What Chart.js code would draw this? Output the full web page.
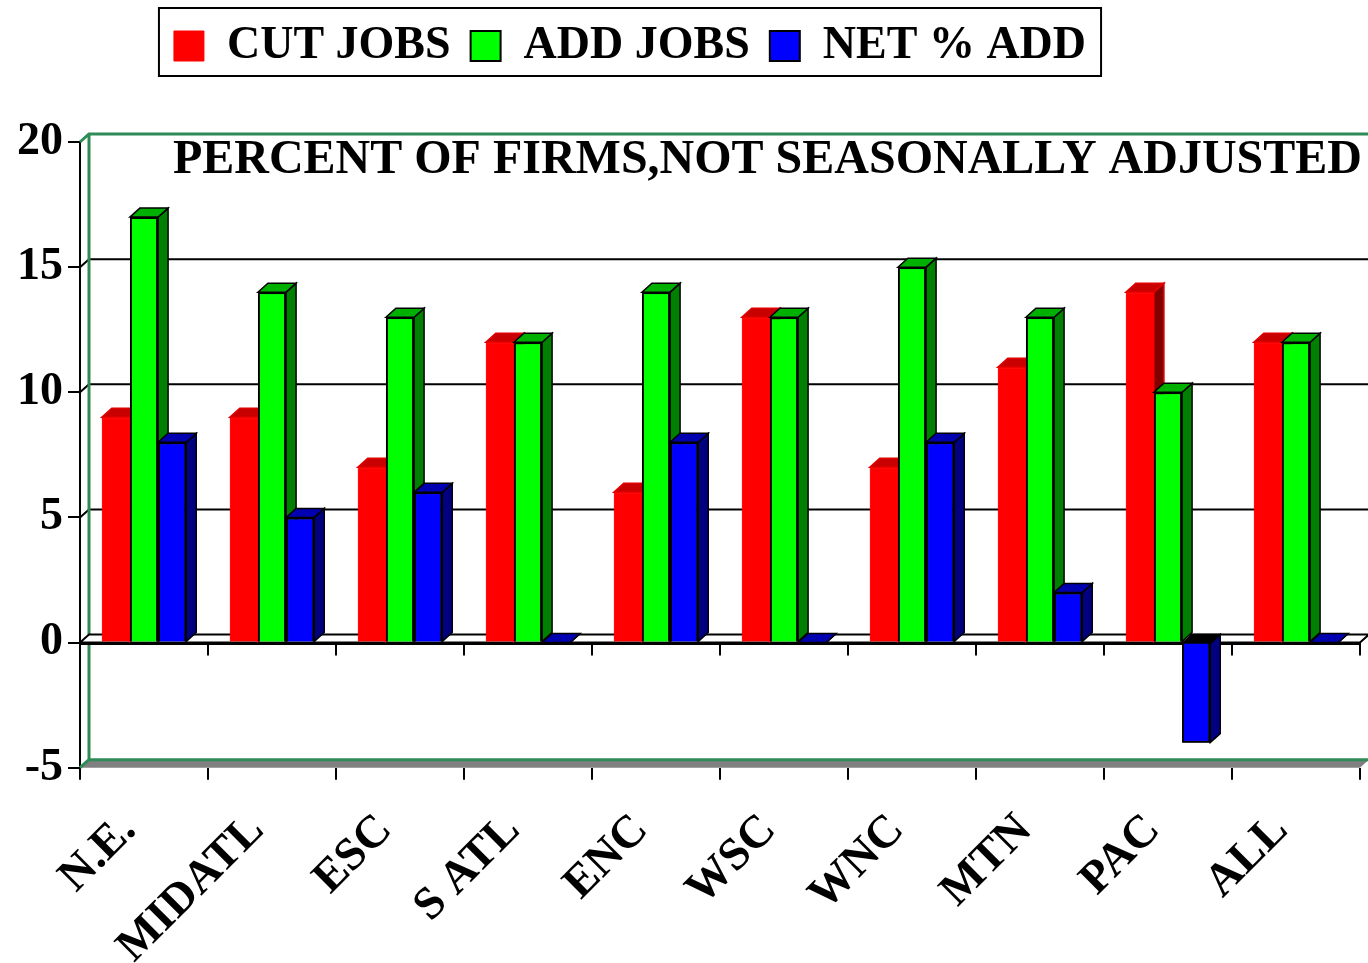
<!DOCTYPE html>
<html>
<head>
<meta charset="utf-8">
<title>Percent of firms</title>
<script src="https://cdn.jsdelivr.net/npm/chart.js@4/dist/chart.umd.min.js"></script>
<style>
  body { margin: 0; background: #fff; }
</style>
</head>
<body>
<canvas id="chart" width="1368" height="963"></canvas>
<script>
const regions = ['N.E.', 'MIDATL', 'ESC', 'S ATL', 'ENC', 'WSC', 'WNC', 'MTN', 'PAC', 'ALL'];
const cutJobs = [9, 9, 7, 12, 6, 13, 7, 11, 14, 12];
const addJobs = [17, 14, 13, 12, 14, 13, 15, 13, 10, 12];
const netAdd = [8, 5, 6, 0, 8, 0, 8, 2, -4, 0];
const yTicks = [-5, 0, 5, 10, 15, 20];

const serif = '"Liberation Serif", "Times New Roman", serif';
const WALL = { x: 9, y: 8 };   // depth of the back wall
const BAR = { x: 10, y: 9 };   // depth of the bars
const faces = [
    { top: '#c80000', side: '#800000', edge: '#e00000' },
    { top: '#00b000', side: '#008000', edge: '#000000' },
    { top: '#0000b0', side: '#000080', edge: '#000000' }
];

function poly(ctx, pts, fill, stroke, lw) {
    ctx.beginPath();
    ctx.moveTo(pts[0][0], pts[0][1]);
    for (let i = 1; i < pts.length; i++) ctx.lineTo(pts[i][0], pts[i][1]);
    ctx.closePath();
    if (fill) { ctx.fillStyle = fill; ctx.fill(); }
    if (stroke) { ctx.strokeStyle = stroke; ctx.lineWidth = lw || 1; ctx.stroke(); }
}

function line(ctx, x1, y1, x2, y2, color, lw) {
    ctx.beginPath();
    ctx.moveTo(x1, y1);
    ctx.lineTo(x2, y2);
    ctx.strokeStyle = color;
    ctx.lineWidth = lw;
    ctx.stroke();
}

const threeD = {
    id: 'threeD',
    afterLayout(chart) {
        // legend sits left of centre and well above the plot in the original
        const lg = chart.legend;
        lg.left -= 56;
        lg.right -= 56;
        lg.top -= 63;
        lg.bottom -= 63;
    },
    beforeDatasetsDraw(chart) {
        const ctx = chart.ctx;
        const { left: L, right: R, top: T, bottom: B } = chart.chartArea;
        const ys = chart.scales.y, xs = chart.scales.x;
        const y0 = ys.getPixelForValue(0);
        ctx.save();
        // floor
        poly(ctx, [[L, B], [R, B], [R + WALL.x, B - WALL.y], [L + WALL.x, B - WALL.y]], '#808080', null);
        // grid lines on the back wall
        ys.ticks.forEach(t => {
            if (t.value <= ys.min || t.value >= ys.max || t.value === 0) return;
            const y = ys.getPixelForValue(t.value);
            ctx.beginPath();
            ctx.moveTo(L, y);
            ctx.lineTo(L + WALL.x, y - WALL.y);
            ctx.lineTo(R + WALL.x + 10, y - WALL.y);
            ctx.strokeStyle = '#000';
            ctx.lineWidth = 2;
            ctx.stroke();
        });
        // wall outline
        const green = '#2e8b57';
        ctx.beginPath();
        ctx.moveTo(L, T);
        ctx.lineTo(L + WALL.x, T - WALL.y);
        ctx.lineTo(R + WALL.x + 10, T - WALL.y);
        ctx.moveTo(L + WALL.x, T - WALL.y);
        ctx.lineTo(L + WALL.x, B - WALL.y);
        ctx.lineTo(R + WALL.x + 10, B - WALL.y);
        ctx.moveTo(L, B);
        ctx.lineTo(L + WALL.x, B - WALL.y);
        ctx.strokeStyle = green;
        ctx.lineWidth = 3;
        ctx.stroke();
        // zero plane
        poly(ctx, [[L, y0], [R, y0], [R + WALL.x, y0 - WALL.y], [L + WALL.x, y0 - WALL.y]], '#fff', '#000', 2);
        line(ctx, L, y0 + 1, R, y0 + 1, '#000', 3);
        // ticks under the zero line
        for (let i = 1; i <= regions.length; i++) {
            const x = Math.round(xs.getPixelForValue(i - 0.5));
            line(ctx, x, y0, x, y0 + 13, '#000', 2);
        }
        ctx.restore();
    },
    afterDatasetsDraw(chart) {
        const ctx = chart.ctx;
        const values = [cutJobs, addJobs, netAdd];
        ctx.save();
        for (let i = 0; i < regions.length; i++) {
            for (let d = 0; d < 3; d++) {
                const el = chart.getDatasetMeta(d).data[i];
                const { x, y, base, width } = el.getProps(['x', 'y', 'base', 'width'], true);
                const l = x - width / 2, r = x + width / 2;
                const top = Math.min(y, base), bot = Math.max(y, base);
                const f = faces[d];
                poly(ctx, [[r, top], [r + BAR.x, top - BAR.y], [r + BAR.x, bot - BAR.y], [r, bot]], f.side, f.edge, 1.5);
                const topFill = values[d][i] < 0 ? '#000' : f.top;
                poly(ctx, [[l, top], [r, top], [r + BAR.x, top - BAR.y], [l + BAR.x, top - BAR.y]], topFill, f.edge, 1.5);
                if (values[d][i] !== 0) el.draw(ctx);
            }
        }
        ctx.restore();
    },
    afterDraw(chart) {
        const ctx = chart.ctx;
        const { right: R, top: T } = chart.chartArea;
        ctx.save();
        // chart title inside the plot
        ctx.font = 'bold 48px ' + serif;
        ctx.fillStyle = '#000';
        ctx.textAlign = 'right';
        ctx.textBaseline = 'alphabetic';
        ctx.fillText('PERCENT OF FIRMS,NOT SEASONALLY ADJUSTED', R + 2, T + 31, 1192);
        // frame round the legend
        const hb = chart.legend.legendHitBoxes;
        const first = hb[0], last = hb[hb.length - 1];
        ctx.strokeStyle = '#000';
        ctx.lineWidth = 2;
        ctx.strokeRect(first.left - 15, first.top - 15, last.left + last.width - first.left + 30, first.height + 22);
        ctx.restore();
    }
};

new Chart(document.getElementById('chart').getContext('2d'), {
    type: 'bar',
    data: {
        labels: regions,
        datasets: [
            { label: 'CUT JOBS', data: cutJobs, backgroundColor: '#ff0000', borderColor: '#ff0000', borderWidth: 1 },
            { label: 'ADD JOBS', data: addJobs, backgroundColor: '#00ff00', borderColor: '#000000', borderWidth: 2 },
            { label: 'NET % ADD', data: netAdd, backgroundColor: '#0000ff', borderColor: '#000000', borderWidth: 2 }
        ]
    },
    options: {
        responsive: false,
        animation: false,
        categoryPercentage: 0.66,
        barPercentage: 1,
        layout: { padding: { left: 12, right: 8, top: 66, bottom: 0 } },
        plugins: {
            tooltip: { enabled: false },
            legend: {
                position: 'top',
                labels: {
                    boxWidth: 30,
                    boxHeight: 30,
                    padding: 20,
                    color: '#000',
                    font: { family: serif, size: 46, weight: 'bold' }
                }
            }
        },
        scales: {
            x: {
                afterFit: s => { s.height -= 35; },
                grid: { offset: true, drawOnChartArea: false, tickLength: 12, color: '#000', lineWidth: 2 },
                border: { display: false },
                ticks: {
                    minRotation: 45,
                    maxRotation: 45,
                    padding: 24,
                    labelOffset: -15,
                    color: '#000',
                    font: { family: serif, size: 46, weight: 'bold' }
                }
            },
            y: {
                min: -5,
                max: 20,
                afterBuildTicks: s => { s.ticks = yTicks.map(v => ({ value: v })); },
                grid: { drawOnChartArea: false, tickLength: 12, color: '#000', lineWidth: 2 },
                border: { color: '#000', width: 2 },
                ticks: {
                    padding: 5,
                    color: '#000',
                    font: { family: serif, size: 46, weight: 'bold' }
                }
            }
        }
    },
    plugins: [threeD]
});
</script>
</body>
</html>
